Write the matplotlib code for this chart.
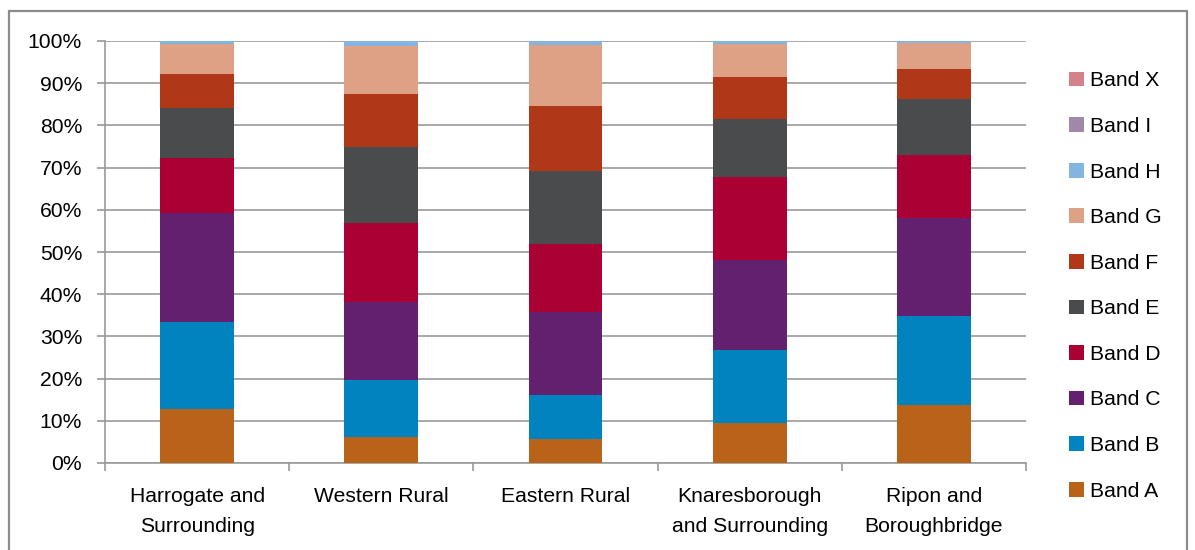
import matplotlib
matplotlib.use("Agg")
import matplotlib.pyplot as plt
from matplotlib.patches import Rectangle, Patch
from matplotlib.ticker import PercentFormatter
import numpy as np

plt.rcParams["font.family"] = ["Liberation Sans", "DejaVu Sans"]

areas = [
    "Harrogate and\nSurrounding",
    "Western Rural",
    "Eastern Rural",
    "Knaresborough\nand Surrounding",
    "Ripon and\nBoroughbridge",
]
bands = ["Band A", "Band B", "Band C", "Band D", "Band E",
         "Band F", "Band G", "Band H", "Band I", "Band X"]

# share of dwellings (%) in each council tax band, per area
band_a = [12.8, 6.2, 5.7, 9.5, 13.7]
band_b = [20.6, 13.4, 10.3, 17.3, 21.1]
band_c = [25.8, 18.5, 19.9, 21.2, 23.2]
band_d = [13.0, 18.7, 16.1, 19.7, 14.9]
band_e = [12.0, 18.0, 17.1, 13.7, 13.3]
band_f = [8.0, 12.6, 15.5, 10.1, 7.1]
band_g = [7.1, 11.5, 14.4, 7.8, 6.2]
band_h = [0.7, 1.1, 1.0, 0.7, 0.5]
band_i = [0.0, 0.0, 0.0, 0.0, 0.0]
band_x = [0.0, 0.0, 0.0, 0.0, 0.0]

series = [band_a, band_b, band_c, band_d, band_e,
          band_f, band_g, band_h, band_i, band_x]
colors = ["#B8621A", "#0083BE", "#63206E", "#AA0033", "#4A4B4D",
          "#B03818", "#DEA186", "#84B5E0", "#A088A8", "#D4828A"]

W, H = 1195, 550
fig = plt.figure(figsize=(W / 100, H / 100), dpi=100)
ax = fig.add_axes([105 / W, 1 - 463 / H, (1026 - 105) / W, (463 - 41) / H])

x = np.arange(len(areas))
bottom = np.zeros(len(areas))
for vals, col in zip(series, colors):
    v = np.array(vals, dtype=float)
    ax.bar(x, v, 0.4, bottom=bottom, color=col, linewidth=0, zorder=3)
    bottom += v

grid_col = "#9A9A9A"
ax.set_xlim(-0.5, len(areas) - 0.5)
ax.set_ylim(0, 100)
ax.set_yticks(np.arange(0, 101, 10))
ax.yaxis.set_major_formatter(PercentFormatter(decimals=0))
ax.yaxis.grid(True, color=grid_col, linewidth=1.2)
ax.set_axisbelow(True)

ax.set_xticks(x)
ax.set_xticklabels(areas, fontsize=15.2, linespacing=1.75)
ax.set_xticks(np.arange(-0.5, len(areas), 1.0), minor=True)
ax.tick_params(axis="x", which="major", length=0, pad=17)
ax.tick_params(axis="x", which="minor", length=5.5, width=1.2, color=grid_col)
ax.tick_params(axis="y", length=5.5, width=1.2, color=grid_col, pad=11, labelsize=15.2)

for s in ("top", "right"):
    ax.spines[s].set_visible(False)
for s in ("left", "bottom"):
    ax.spines[s].set_color(grid_col)
    ax.spines[s].set_linewidth(1.2)

handles = [Patch(facecolor=c, edgecolor="none") for c in colors][::-1]
labels = bands[::-1]
fig.legend(handles, labels, loc="center left",
           bbox_to_anchor=(1069 / W, 1 - 286 / H),
           frameon=False, fontsize=15.2, handlelength=0.7, handleheight=0.7,
           handletextpad=0.3, labelspacing=1.26, borderpad=0, borderaxespad=0)

# outer chart frame
fig.patches.append(Rectangle((9 / W, -0.05), (1187 - 9) / W, 1.05 - 11 / H,
                             transform=fig.transFigure, fill=False,
                             edgecolor="#8C8C8C", linewidth=1.6, zorder=0))

fig.savefig("out.png", dpi=100)
